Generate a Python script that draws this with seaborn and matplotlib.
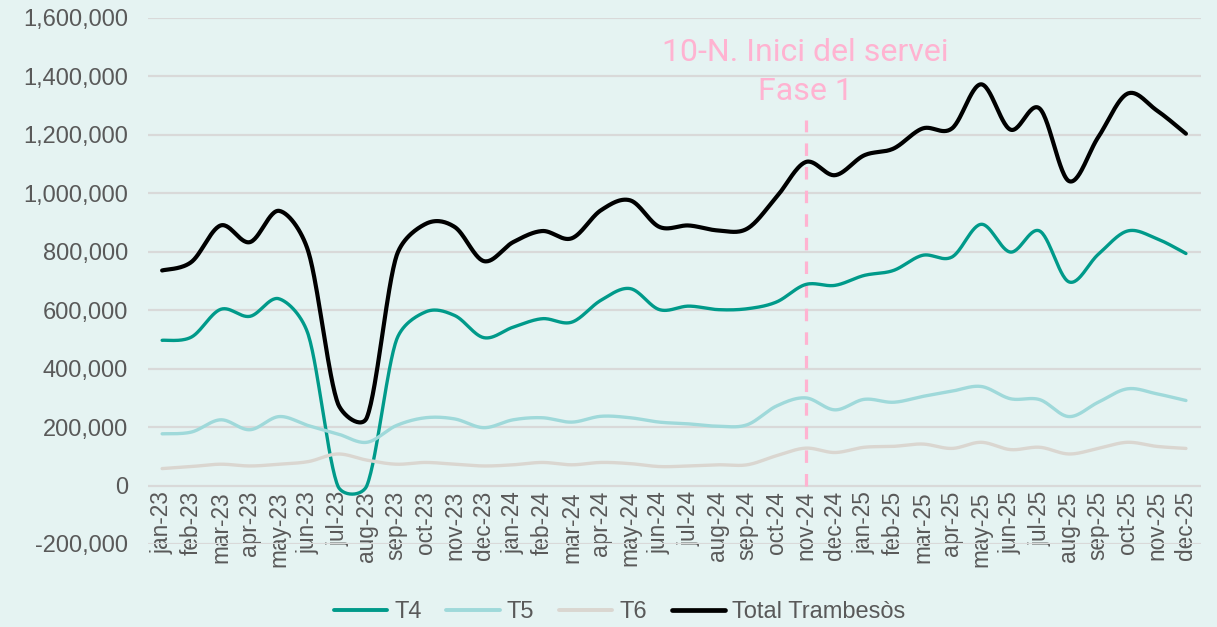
import numpy as np
import pandas as pd
import matplotlib
matplotlib.use("Agg")
import matplotlib.pyplot as plt
from matplotlib.lines import Line2D
from matplotlib.ticker import FuncFormatter
import seaborn as sns

# ---------------- data ----------------
months = ["jan-23", "feb-23", "mar-23", "apr-23", "may-23", "jun-23", "jul-23", "aug-23",
          "sep-23", "oct-23", "nov-23", "dec-23", "jan-24", "feb-24", "mar-24", "apr-24",
          "may-24", "jun-24", "jul-24", "aug-24", "sep-24", "oct-24", "nov-24", "dec-24",
          "jan-25", "feb-25", "mar-25", "apr-25", "may-25", "jun-25", "jul-25", "aug-25",
          "sep-25", "oct-25", "nov-25", "dec-25"]

t4 = [497000, 508000, 603000, 579000, 639000, 515000, 0, 0,
      495000, 594000, 582000, 506000, 542000, 571000, 559000, 634000,
      674000, 602000, 614000, 602000, 605000, 628000, 688000, 685000,
      719000, 736000, 788000, 782000, 894000, 799000, 871000, 697000,
      791000, 871000, 845000, 794000]

t5 = [177000, 183000, 225000, 191000, 236000, 205000, 177000, 148000,
      205000, 232000, 228000, 198000, 225000, 232000, 217000, 237000,
      232000, 217000, 211000, 203000, 208000, 272000, 300000, 259000,
      295000, 285000, 305000, 323000, 339000, 297000, 294000, 236000,
      285000, 331000, 314000, 291000]

t6 = [58000, 65000, 73000, 67000, 73000, 82000, 108000, 87000,
      73000, 79000, 73000, 67000, 71000, 79000, 71000, 79000,
      75000, 65000, 67000, 71000, 71000, 102000, 128000, 113000,
      131000, 134000, 142000, 127000, 148000, 123000, 131000, 108000,
      127000, 148000, 134000, 127000]

total = [736000, 765000, 890000, 833000, 940000, 800000, 283000, 233000,
         782000, 895000, 885000, 768000, 833000, 871000, 846000, 942000,
         976000, 885000, 890000, 873000, 879000, 987000, 1107000, 1062000,
         1130000, 1153000, 1222000, 1222000, 1373000, 1218000, 1290000, 1042000,
         1192000, 1341000, 1284000, 1204000]

series_names = ["T4", "T5", "T6", "Total Trambesòs"]
series_values = [t4, t5, t6, total]
series_colors = ["#009A8A", "#9FD9DA", "#DAD6D0", "#000000"]
series_widths = [2.4, 2.4, 2.4, 3.0]

event_month = "nov-24"
event_top = 1250000
event_lines = ["10-N. Inici del servei", "Fase 1"]

# ---------------- helpers ----------------
PX_X = 29.26          # screen pixels per month
PX_Y = 1.0 / 3425.0   # screen pixels per passenger


def smooth_curve(values, n=30, k=0.42):
    """Excel-like smoothed line: Bezier segments with control points of 1/6
    tension, limited in screen space so steep drops do not overshoot."""
    y = np.asarray(values, float)
    x = np.arange(len(y), dtype=float)
    P = np.column_stack([x * PX_X, y * PX_Y])
    Pe = np.vstack([P[0], P, P[-1]])
    t = np.linspace(0, 1, n, endpoint=False)[:, None]
    out = []
    for i in range(len(y) - 1):
        p0, p1, p2, p3 = Pe[i], Pe[i + 1], Pe[i + 2], Pe[i + 3]
        d12 = np.linalg.norm(p2 - p1)
        v1 = (p2 - p0) / 6.0
        v2 = (p3 - p1) / 6.0
        l1, l2 = np.linalg.norm(v1), np.linalg.norm(v2)
        if l1 > k * d12 and l1 > 0:
            v1 = v1 * (k * d12 / l1)
        if l2 > k * d12 and l2 > 0:
            v2 = v2 * (k * d12 / l2)
        c1 = p1 + v1
        c2 = p2 - v2
        b = (1 - t) ** 3 * p1 + 3 * (1 - t) ** 2 * t * c1 + 3 * (1 - t) * t ** 2 * c2 + t ** 3 * p2
        out.append(b)
    out.append(P[-1][None, :])
    pts = np.vstack(out)
    return pts[:, 0] / PX_X, pts[:, 1] / PX_Y


# ---------------- style ----------------
bg = "#E5F3F2"
sns.set_theme(style="white")
plt.rcParams["font.family"] = ["Liberation Sans", "DejaVu Sans"]
plt.rcParams["lines.scale_dashes"] = False

fig = plt.figure(figsize=(12.17, 6.27), dpi=100, facecolor=bg)
ax = fig.add_axes([0.1212, 0.1324, 0.8653, 0.8389])
ax.set_facecolor(bg)

ax.set_ylim(-200000, 1600000)
ax.set_xlim(-0.5, len(months) - 0.5)
ax.set_yticks(np.arange(-200000, 1600001, 200000))
ax.yaxis.set_major_formatter(FuncFormatter(lambda v, p: f"{int(v):,}"))
ax.grid(axis="y", color="#D9D9D9", linewidth=1.6)
ax.grid(axis="x", visible=False)
ax.set_axisbelow(True)
for s in ax.spines.values():
    s.set_visible(False)
ax.spines["bottom"].set_position(("data", 0))

ax.set_xticks(range(len(months)))
ax.set_xticklabels(months, rotation=90, va="top", ha="center")
ax.tick_params(axis="x", length=0, pad=4, labelsize=16.3, colors="#595959")
ax.tick_params(axis="y", length=0, pad=14, labelsize=17, colors="#595959")

for name, vals, col, lw in zip(series_names, series_values, series_colors, series_widths):
    xs, ys = smooth_curve(vals)
    df = pd.DataFrame({"x": xs, "y": ys})
    sns.lineplot(data=df, x="x", y="y", ax=ax, color=col, linewidth=lw,
                 sort=False, estimator=None, legend=False)
ax.set_xlabel("")
ax.set_ylabel("")

# event marker
ev = months.index(event_month)
ax.plot([ev, ev], [0, event_top], color="#FFB3D1", linewidth=2.3,
        dashes=(9, 8), zorder=1.5)
ax.text(ev, 1483000, event_lines[0], ha="center", va="center", fontsize=23,
        color="#FFB3D1", family=["Roboto", "DejaVu Sans"])
ax.text(ev, 1350000, event_lines[1], ha="center", va="center", fontsize=23,
        color="#FFB3D1", family=["Roboto", "DejaVu Sans"])

# legend
handles = [Line2D([], [], color=c, linewidth=w + 0.4) for c, w in zip(series_colors, series_widths)]
fig.legend(handles, series_names, loc="center", bbox_to_anchor=(0.509, 0.024),
           ncol=4, frameon=False, fontsize=17, handlelength=2.25, handletextpad=0.3,
           columnspacing=1.05, labelcolor="#595959")

fig.savefig("out.png", dpi=100, facecolor=bg)
